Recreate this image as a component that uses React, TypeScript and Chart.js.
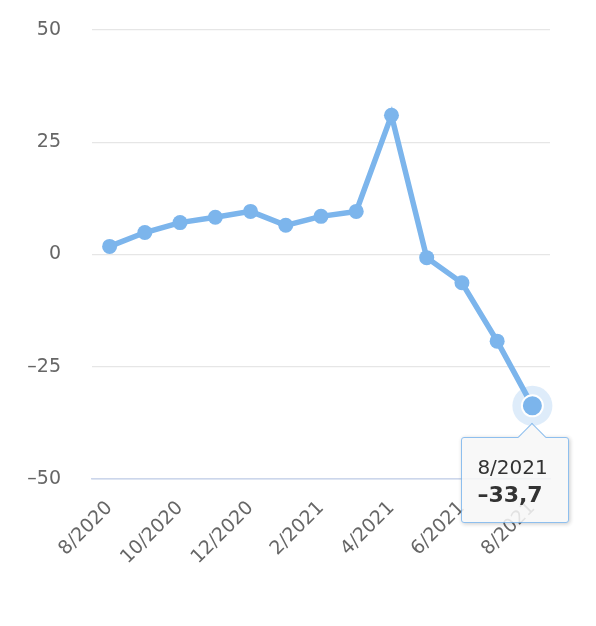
import { useEffect, useRef } from 'react';
import { Chart, registerables } from 'chart.js';

Chart.register(...registerables);

const MONTHS = [
  '8/2020', '9/2020', '10/2020', '11/2020', '12/2020', '1/2021', '2/2021',
  '3/2021', '4/2021', '5/2021', '6/2021', '7/2021', '8/2021',
];
const VALUES = [1.8, 4.9, 7.1, 8.3, 9.6, 6.5, 8.5, 9.6, 31.0, -0.7, -6.3, -19.3, -33.7];
const Y_MIN = -50;
const Y_MAX = 50;
const Y_STEP = 25;
const ACTIVE_INDEX = 12;

const BLUE = '#7cb5ec';
const FONT = '"DejaVu Sans", "Liberation Sans", sans-serif';

const fmt = (n: number, dec = 0) =>
  (n < 0 ? '\u2013' : '') + Math.abs(n).toFixed(dec).replace('.', ',');

// halo under the hovered point
const haloPlugin = {
  id: 'halo',
  beforeDatasetsDraw(chart: Chart) {
    const ctx = chart.ctx;
    chart.getActiveElements().forEach((a) => {
      const el = a.element as any;
      ctx.save();
      ctx.beginPath();
      ctx.arc(el.x, el.y, 20, 0, Math.PI * 2);
      ctx.fillStyle = 'rgba(124,181,236,0.25)';
      ctx.fill();
      ctx.restore();
    });
  },
};

export default function App() {
  const canvasRef = useRef<HTMLCanvasElement>(null);
  const tipRef = useRef<HTMLDivElement>(null);
  const titleRef = useRef<HTMLDivElement>(null);
  const bodyRef = useRef<HTMLDivElement>(null);
  const chartRef = useRef<Chart | null>(null);

  useEffect(() => {
    if (!canvasRef.current) return;
    chartRef.current?.destroy();
    const chart = new Chart(canvasRef.current, {
      type: 'line',
      data: {
        labels: MONTHS,
        datasets: [{
          data: VALUES,
          borderColor: BLUE,
          backgroundColor: BLUE,
          borderWidth: 5.5,
          pointRadius: 7.5,
          pointBorderWidth: 0,
          pointBackgroundColor: BLUE,
          pointHoverRadius: 10.5,
          pointHoverBorderWidth: 2,
          pointHoverBorderColor: '#ffffff',
          pointHoverBackgroundColor: BLUE,
          tension: 0,
        }],
      },
      plugins: [haloPlugin],
      options: {
        animation: false,
        responsive: true,
        maintainAspectRatio: false,
        events: [],
        layout: { padding: { top: 22, right: 38, left: 0, bottom: 0 } },
        plugins: {
          legend: { display: false },
          tooltip: {
            enabled: false,
            callbacks: {
              title: (items) => String(items[0].label),
              label: (item) => fmt(Number(item.raw), 1),
            },
            external: ({ tooltip }) => {
              const el = tipRef.current;
              if (!el) return;
              if (tooltip.opacity === 0) { el.style.display = 'none'; return; }
              if (titleRef.current) titleRef.current.textContent = tooltip.title?.[0] ?? '';
              if (bodyRef.current) bodyRef.current.textContent = tooltip.body?.[0]?.lines?.[0] ?? '';
              el.style.display = 'block';
              el.style.left = tooltip.caretX - 71 + 'px';
              el.style.top = tooltip.caretY + 31 + 'px';
            },
          },
        },
        scales: {
          x: {
            offset: true,
            afterFit: (s: any) => { s.height = 139; },
            grid: { display: false },
            border: { display: true, color: '#ccd6eb', width: 1.5 },
            ticks: {
              autoSkip: false,
              minRotation: 45,
              maxRotation: 45,
              padding: 10,
              color: '#666666',
              font: { family: FONT, size: 19 },
              callback: (_v, i) => (i % 2 === 0 ? MONTHS[i] : ''),
            },
          },
          y: {
            min: Y_MIN,
            max: Y_MAX,
            afterFit: (s: any) => { s.width = 84; s.paddingTop = 0; s.paddingBottom = 0; },
            border: { display: false },
            grid: {
              drawTicks: false,
              lineWidth: 1.2,
              color: (c: any) => (c.tick?.value === Y_MIN ? '#ccd6eb' : '#e6e6e6'),
            },
            ticks: {
              stepSize: Y_STEP,
              padding: 31,
              color: '#666666',
              font: { family: FONT, size: 19 },
              callback: (v) => fmt(Number(v)),
            },
          },
        },
      },
    });
    chartRef.current = chart;
    const meta = chart.getDatasetMeta(0);
    const pt = meta.data[ACTIVE_INDEX];
    chart.setActiveElements([{ datasetIndex: 0, index: ACTIVE_INDEX }]);
    chart.tooltip?.setActiveElements([{ datasetIndex: 0, index: ACTIVE_INDEX }], { x: pt.x, y: pt.y });
    chart.update();
    return () => { chartRef.current?.destroy(); chartRef.current = null; };
  }, []);

  return (
    <div style={{ position: 'relative', width: 580, height: 610, fontFamily: FONT }}>
      <canvas ref={canvasRef} />
      <div ref={tipRef} style={{ position: 'absolute', display: 'none', pointerEvents: 'none', width: 108, height: 86 }}>
        {/* box + caret, faded as a group */}
        <div style={{ position: 'absolute', inset: 0, opacity: 0.86 }}>
          <div
            style={{
              position: 'absolute', inset: 0, boxSizing: 'border-box',
              background: '#f7f7f7', border: `1.5px solid ${BLUE}`, borderRadius: 3,
              boxShadow: '1px 1px 4px rgba(0,0,0,0.25)',
            }}
          />
          <div
            style={{
              position: 'absolute', left: 61, top: -10, width: 20, height: 20, boxSizing: 'border-box',
              background: '#f7f7f7', borderTop: `1.5px solid ${BLUE}`, borderLeft: `1.5px solid ${BLUE}`,
              transform: 'rotate(45deg)',
            }}
          />
        </div>
        <div style={{ position: 'absolute', left: 16, top: 17, color: '#333333' }}>
          <div ref={titleRef} style={{ fontSize: 20, lineHeight: '26px' }} />
          <div ref={bodyRef} style={{ fontSize: 22, fontWeight: 'bold', lineHeight: '30px' }} />
        </div>
      </div>
    </div>
  );
}
